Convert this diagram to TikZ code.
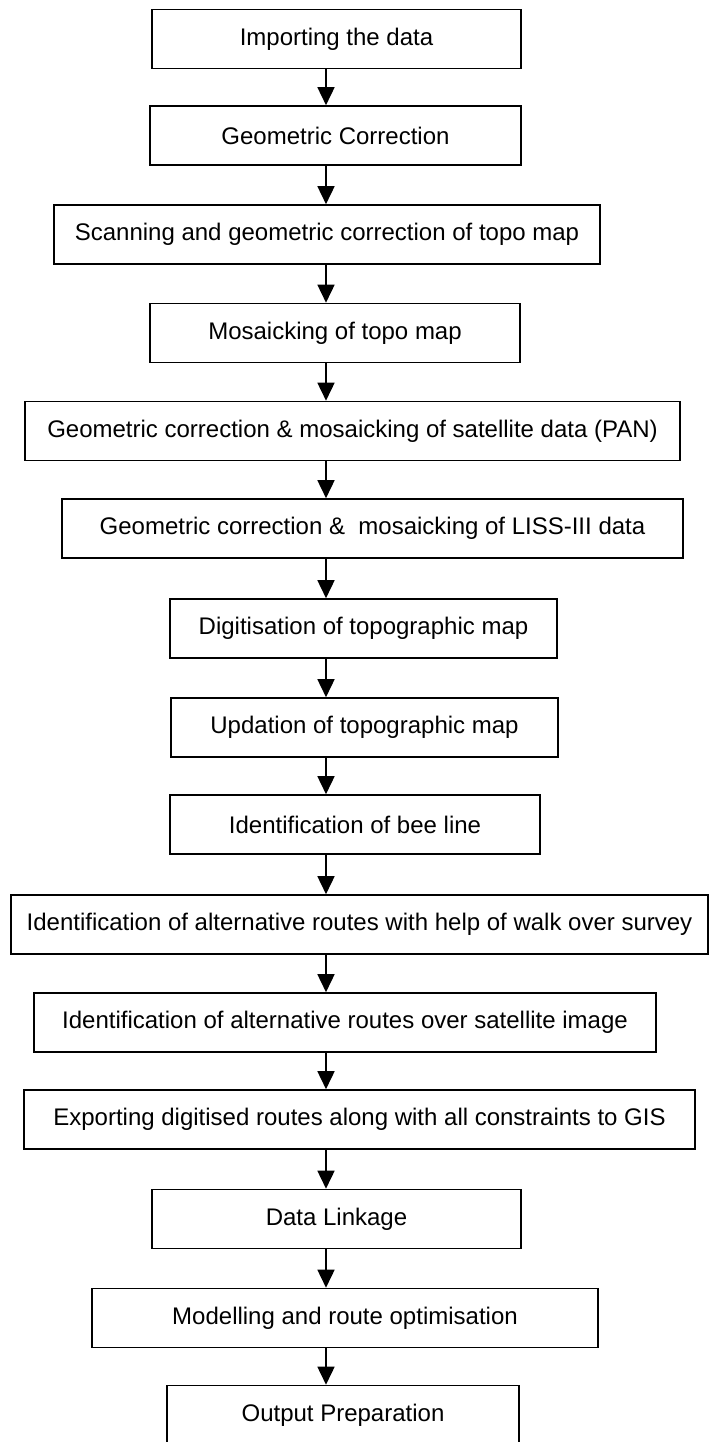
\documentclass[tikz,border=0pt]{standalone}
\usepackage{fontspec}
\setmainfont{Liberation Sans}
\usetikzlibrary{arrows.meta}
\begin{document}
\begin{tikzpicture}[x=1pt,y=-1pt,
  stepbox/.style={draw, line width=1.6pt, minimum height=59pt, inner sep=0pt,
    font=\fontsize{24}{28}\selectfont},
  flow/.style={line width=1.6pt, -{Triangle[length=18pt,width=17pt]}}]
\useasboundingbox (0,0) rectangle (709,1442);
\clip (0,0) rectangle (709,1442);
\coordinate (ax) at (326,0);

\node[stepbox, minimum width=369pt] (b1)  at (336.5,39)    {Importing the data};
\node[stepbox, minimum width=371pt] (b2)  at (335.5,135.5) {Geometric Correction};
\node[stepbox, minimum width=546pt] (b3)  at (327,234.5)   {Scanning and geometric correction of topo map};
\node[stepbox, minimum width=370pt] (b4)  at (335,333)     {Mosaicking of topo map};
\node[stepbox, minimum width=655pt] (b5)  at (352.5,431)   {Geometric correction \& mosaicking of satellite data (PAN)};
\node[stepbox, minimum width=621pt] (b6)  at (372.5,528.5) {Geometric correction \& \ mosaicking of LISS-III data};
\node[stepbox, minimum width=387pt] (b7)  at (363.5,628.5) {Digitisation of topographic map};
\node[stepbox, minimum width=387pt] (b8)  at (364.5,727.5) {Updation of topographic map};
\node[stepbox, minimum width=370pt] (b9)  at (355,824.5)   {Identification of bee line};
\node[stepbox, minimum width=697pt] (b10) at (359.5,924.5) {Identification of alternative routes with help of walk over survey};
\node[stepbox, minimum width=622pt] (b11) at (345,1022.5)  {Identification of alternative routes over satellite image};
\node[stepbox, minimum width=671pt] (b12) at (359.5,1119.5){Exporting digitised routes along with all constraints to GIS};
\node[stepbox, minimum width=369pt] (b13) at (336.5,1219)  {Data Linkage};
\node[stepbox, minimum width=506pt] (b14) at (345,1318)    {Modelling and route optimisation};
\node[stepbox, minimum width=352pt] (b15) at (343,1415)    {Output Preparation};

\foreach \a/\b in {b1/b2,b2/b3,b3/b4,b4/b5,b5/b6,b6/b7,b7/b8,b8/b9,b9/b10,b10/b11,b11/b12,b12/b13,b13/b14,b14/b15}
  \draw[flow] (\a.south -| ax) -- (\b.north -| ax);
\end{tikzpicture}
\end{document}
